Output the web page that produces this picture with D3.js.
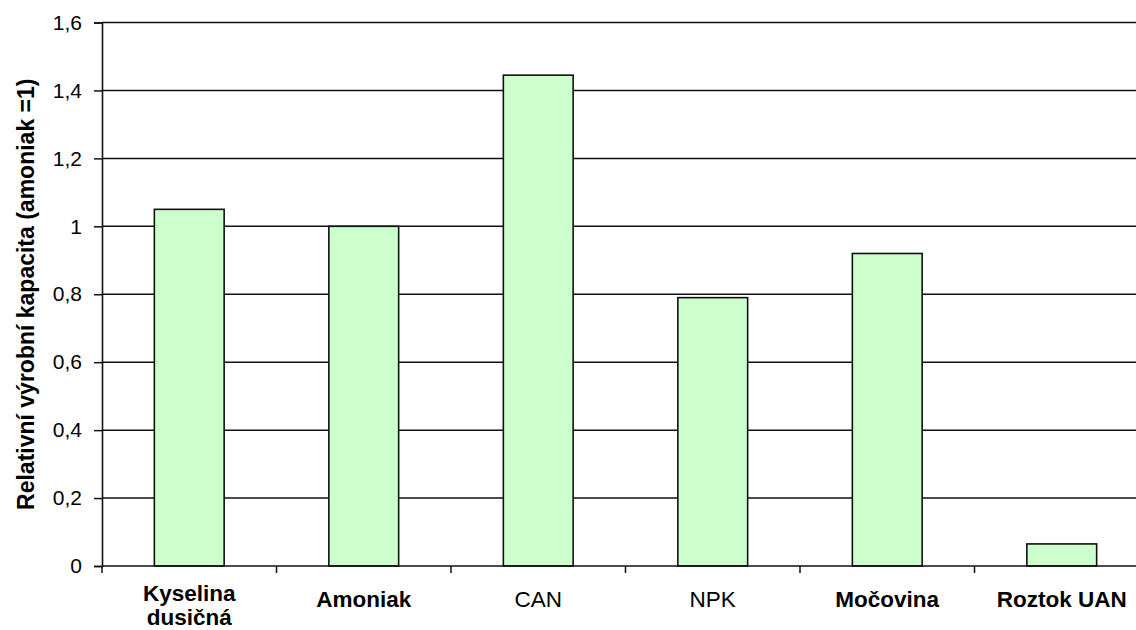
<!DOCTYPE html>
<html>
<head>
<meta charset="utf-8">
<script src="https://cdn.jsdelivr.net/npm/d3@7/dist/d3.min.js"></script>
<style>
  html, body { margin: 0; padding: 0; background: #fff; }
  svg { display: block; }
  text { font-family: "Liberation Sans", Arial, sans-serif; fill: #000; }
</style>
</head>
<body>
<svg id="chart" width="1136" height="630"></svg>
<script>
// Production capacity of fertiliser plants relative to ammonia (ammonia = 1)
const categories = ["Kyselina dusičná", "Amoniak", "CAN", "NPK", "Močovina", "Roztok UAN"];
const labelLines = [["Kyselina", "dusičná"], ["Amoniak"], ["CAN"], ["NPK"], ["Močovina"], ["Roztok UAN"]];
const boldLabel = [true, true, false, false, true, true];
const values = [1.05, 1.0, 1.445, 0.79, 0.92, 0.065];
const yTicks = [0, 0.2, 0.4, 0.6, 0.8, 1.0, 1.2, 1.4, 1.6];
const yTitle = "Relativní výrobní kapacita (amoniak =1)";

const W = 1136;
const plotLeft = 102, plotTop = 22.5, plotBottom = 566;
const step = 174.5;

const svg = d3.select("#chart");

const x = d3.scaleBand()
  .domain(categories)
  .range([plotLeft, plotLeft + step * categories.length])
  .padding(0);

const y = d3.scaleLinear().domain([0, 1.6]).range([plotBottom, plotTop]);

const fmt = d => String(+d.toFixed(1)).replace(".", ",");

// horizontal gridlines
svg.append("g")
  .selectAll("line")
  .data(yTicks.filter(d => d > 0))
  .join("line")
  .attr("x1", plotLeft).attr("x2", W)
  .attr("y1", d => y(d)).attr("y2", d => y(d))
  .attr("stroke", "#111")
  .attr("stroke-width", 1.5);

// y axis
const yAxis = svg.append("g")
  .attr("transform", `translate(${plotLeft},0)`)
  .call(d3.axisLeft(y).tickValues(yTicks).tickFormat(fmt).tickSize(8).tickPadding(12));
yAxis.select(".domain").attr("stroke", "#111").attr("stroke-width", 1.6);
yAxis.selectAll(".tick line").attr("stroke", "#111").attr("stroke-width", 1.5);
yAxis.selectAll(".tick text")
  .style("font-family", '"Liberation Sans", Arial, sans-serif')
  .style("font-size", "21px")
  .attr("fill", "#111");

// bars
const inset = 0.3, frac = 0.4;
svg.append("g")
  .selectAll("rect")
  .data(categories.map((c, i) => ({ c, v: values[i] })))
  .join("rect")
  .attr("x", d => x(d.c) + x.bandwidth() * inset)
  .attr("width", x.bandwidth() * frac)
  .attr("y", d => y(d.v))
  .attr("height", d => y(0) - y(d.v))
  .attr("fill", "#CCFFCC")
  .attr("stroke", "#111")
  .attr("stroke-width", 1.6);

// x axis line and band-boundary ticks
const xAxis = svg.append("g").attr("transform", `translate(0,${plotBottom})`);
xAxis.append("line")
  .attr("x1", plotLeft).attr("x2", W)
  .attr("stroke", "#111").attr("stroke-width", 1.6);
xAxis.selectAll("line.tk")
  .data(categories)
  .join("line")
  .attr("class", "tk")
  .attr("x1", d => x(d)).attr("x2", d => x(d))
  .attr("y1", 0).attr("y2", 7)
  .attr("stroke", "#111").attr("stroke-width", 1.5);

// category labels
const lab = svg.append("g")
  .selectAll("text")
  .data(categories)
  .join("text")
  .attr("text-anchor", "middle")
  .style("font-size", "22.5px")
  .style("font-weight", (d, i) => boldLabel[i] ? "bold" : "normal")
  .attr("fill", (d, i) => boldLabel[i] ? "#000" : "#222");
lab.each(function (d, i) {
  const lines = labelLines[i];
  const t = d3.select(this);
  const cx = x(d) + x.bandwidth() / 2;
  const first = 607 - (lines.length - 1) * 6;
  lines.forEach((s, k) => {
    t.append("tspan").attr("x", cx).attr("y", first + k * 24).text(s);
  });
});

// y axis title
svg.append("text")
  .attr("transform", `translate(33.5,${(plotTop + plotBottom) / 2}) rotate(-90)`)
  .attr("text-anchor", "middle")
  .style("font-size", "23px")
  .style("font-weight", "bold")
  .text(yTitle);
</script>
</body>
</html>
